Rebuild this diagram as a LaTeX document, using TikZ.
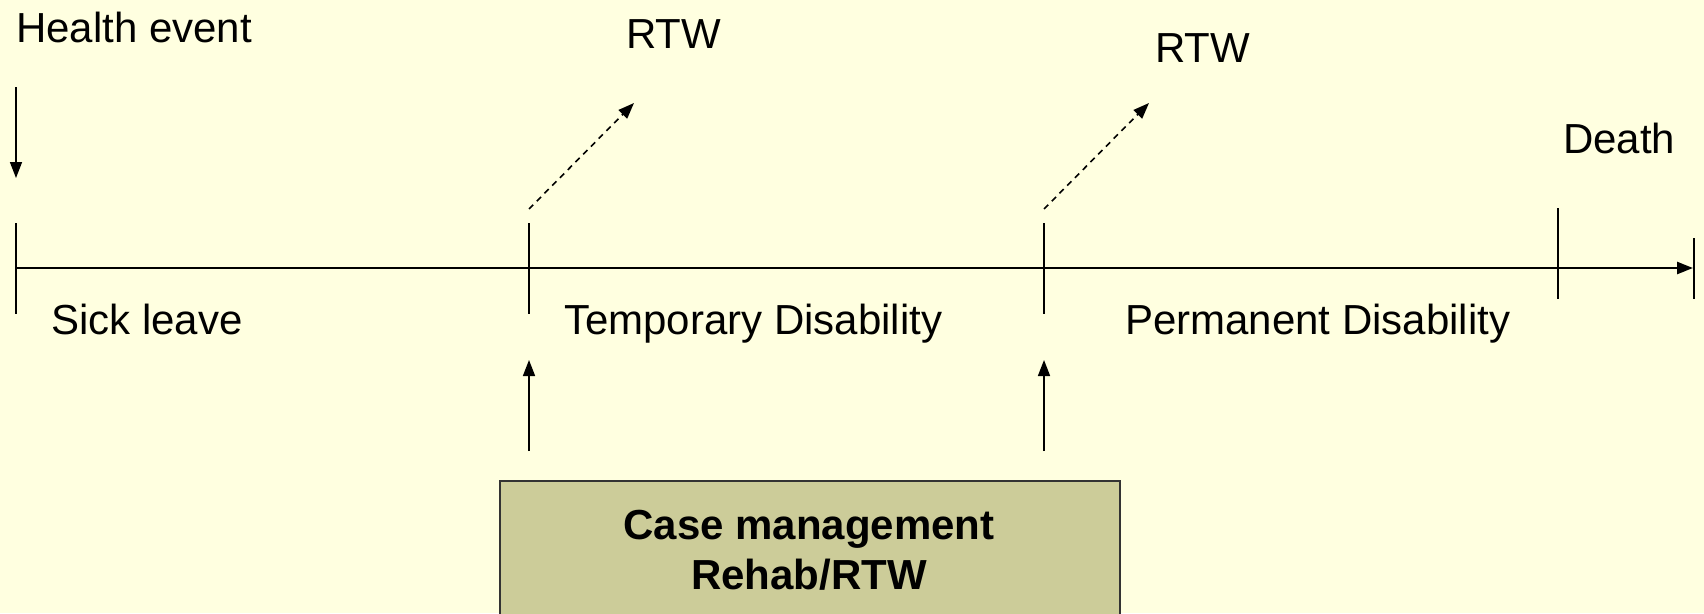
\documentclass[tikz,border=0pt]{standalone}
\usepackage{fontspec}
\setmainfont{Liberation Sans}
\usetikzlibrary{arrows.meta}
\definecolor{bg}{HTML}{FFFFE0}
\definecolor{boxfill}{HTML}{CCCC99}
\definecolor{boxline}{HTML}{333333}
\begin{document}
\begin{tikzpicture}[x=1pt,y=-1pt,
  lbl/.style={inner sep=0pt, anchor=base west, font=\fontsize{42}{50}\selectfont},
  boldlbl/.style={inner sep=0pt, align=center, font=\fontsize{42}{50}\selectfont\bfseries},
  tick/.style={line width=1.6pt},
  axisline/.style={line width=2.4pt, -{Triangle[length=16pt,width=12pt]}},
  arr/.style={line width=1.6pt, -{Triangle[length=16pt,width=12pt]}},
  dasharr/.style={line width=1.6pt, dash pattern=on 6pt off 5pt, -{Triangle[length=16pt,width=12pt]}},
  cmbox/.style={draw=boxline, fill=boxfill, line width=1.8pt, inner sep=0pt}]
\fill[bg] (0,0) rectangle (1704,613);
\useasboundingbox (0,0) rectangle (1704,613);
\clip (0,0) rectangle (1704,613);
% labels
\node[lbl] (health) at (16,42) {Health event};
\node[lbl] (rtwa) at (626,48) {RTW};
\node[lbl] (rtwb) at (1155,62) {RTW};
\node[lbl] (death) at (1563,153) {Death};
\node[lbl] (sick) at (51,334) {Sick leave};
\node[lbl] (temp) at (564,334) {Temporary Disability};
\node[lbl] (perm) at (1125,334) {Permanent Disability};
% box
\node[cmbox, minimum width=620pt, minimum height=180pt, anchor=north west] (cm) at (499,480) {};
\node[boldlbl, anchor=base] (cmtext) at (809,589) {Case management\\Rehab/RTW};
% coordinates
\coordinate (hs) at (16,87);
\coordinate (he) at (16,178);
\coordinate (t1a) at (16,223);   \coordinate (t1b) at (16,314);
\coordinate (t2a) at (529,223);  \coordinate (t2b) at (529,314);
\coordinate (t3a) at (1044,223); \coordinate (t3b) at (1044,314);
\coordinate (t4a) at (1558,208); \coordinate (t4b) at (1558,299);
\coordinate (t5a) at (1694,238); \coordinate (t5b) at (1694,299);
\coordinate (ax0) at (16,268);
\coordinate (ax1) at (1693,268);
\coordinate (d1s) at (529,209);  \coordinate (d1e) at (634,103);
\coordinate (d2s) at (1044,209); \coordinate (d2e) at (1149,103);
\coordinate (u1s) at (529,451);  \coordinate (u1e) at (529,360);
\coordinate (u2s) at (1044,451); \coordinate (u2e) at (1044,360);
% drawing
\draw[arr] (hs) -- (he);
\draw[tick] (t1a) -- (t1b);
\draw[tick] (t2a) -- (t2b);
\draw[tick] (t3a) -- (t3b);
\draw[tick] (t4a) -- (t4b);
\draw[tick] (t5a) -- (t5b);
\draw[axisline] (ax0) -- (ax1);
\draw[dasharr] (d1s) -- (d1e);
\draw[dasharr] (d2s) -- (d2e);
\draw[arr] (u1s) -- (u1e);
\draw[arr] (u2s) -- (u2e);
\end{tikzpicture}
\end{document}
